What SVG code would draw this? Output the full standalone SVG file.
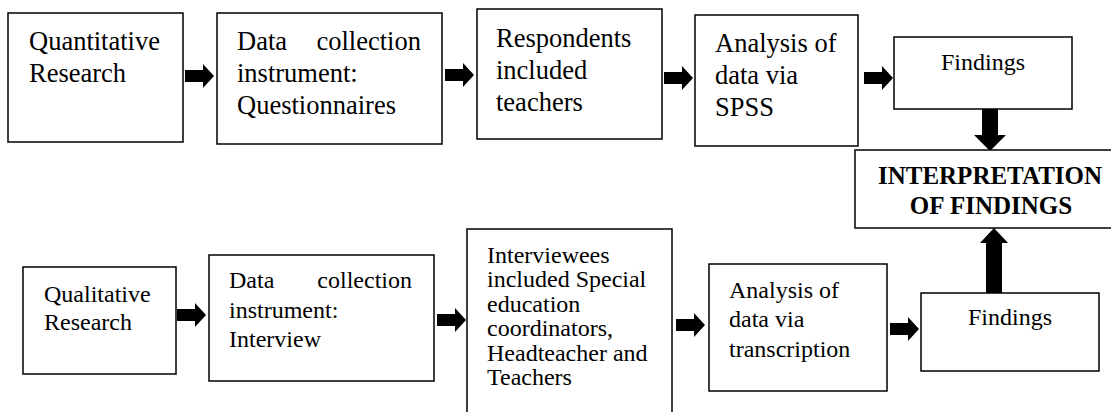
<svg xmlns="http://www.w3.org/2000/svg" xmlns:xlink="http://www.w3.org/1999/xlink" width="1111" height="412" viewBox="0 0 1111 412">
<style>
  .box { fill: #ffffff; stroke: #000000; stroke-width: 1.5; }
  .t { font-family: "Liberation Serif", "Times New Roman", serif; fill: #000000; }
  .top { font-size: 26.5px; }
  .bot { font-size: 24px; }
  .fnd { font-size: 24px; text-anchor: middle; }
  .b { font-size: 25px; font-weight: bold; text-anchor: middle; }
  .end { text-anchor: end; }
  .arr { fill: #000000; stroke: none; }
</style>
<defs>
  <path id="harrow" d="M0,-6 H18 V-12 L29,0 L18,12 V6 H0 Z"/>
</defs>
<rect width="1111" height="412" fill="#ffffff"/>

<g id="connectors" class="arr">
  <use xlink:href="#harrow" href="#harrow" transform="translate(185,76)"/>
  <use xlink:href="#harrow" href="#harrow" transform="translate(445,75)"/>
  <use xlink:href="#harrow" href="#harrow" transform="translate(664,78)"/>
  <use xlink:href="#harrow" href="#harrow" transform="translate(864,78)"/>
  <use xlink:href="#harrow" href="#harrow" transform="translate(177,315)"/>
  <use xlink:href="#harrow" href="#harrow" transform="translate(437,320)"/>
  <use xlink:href="#harrow" href="#harrow" transform="translate(676,325)"/>
  <use xlink:href="#harrow" href="#harrow" transform="translate(890,329)"/>
  <path d="M982,109 H998 V135 H1006 L990,151 L974,135 H982 Z"/>
  <path d="M986,293 H1002 V243 H1008 L994,228 L980,243 H986 Z"/>
</g>

<g id="quantitative">
  <rect class="box" x="8" y="13" width="175" height="129"/>
  <text class="t top" x="29" y="50">Quantitative</text>
  <text class="t top" x="29" y="82">Research</text>
</g>

<g id="questionnaires">
  <rect class="box" x="217" y="13" width="225" height="131"/>
  <text class="t top" x="237" y="50">Data</text>
  <text class="t top end" x="421" y="50">collection</text>
  <text class="t top" x="237" y="82">instrument:</text>
  <text class="t top" x="237" y="114">Questionnaires</text>
</g>

<g id="respondents">
  <rect class="box" x="477" y="9" width="185" height="130"/>
  <text class="t top" x="496" y="47">Respondents</text>
  <text class="t top" x="496" y="79">included</text>
  <text class="t top" x="496" y="111">teachers</text>
</g>

<g id="spss">
  <rect class="box" x="695" y="15" width="163" height="131"/>
  <text class="t top" x="715" y="52">Analysis of</text>
  <text class="t top" x="715" y="84">data via</text>
  <text class="t top" x="715" y="116">SPSS</text>
</g>

<g id="findings-top">
  <rect class="box" x="894" y="37" width="178" height="72"/>
  <text class="t fnd" x="983" y="70">Findings</text>
</g>

<g id="interpretation">
  <rect class="box" x="855" y="150" width="270" height="78"/>
  <text class="t b" x="990" y="184">INTERPRETATION</text>
  <text class="t b" x="991" y="214">OF FINDINGS</text>
</g>

<g id="qualitative">
  <rect class="box" x="23" y="267" width="153" height="107"/>
  <text class="t bot" x="44" y="302">Qualitative</text>
  <text class="t bot" x="44" y="330">Research</text>
</g>

<g id="interview">
  <rect class="box" x="209" y="255" width="225" height="126"/>
  <text class="t bot" x="229" y="288">Data</text>
  <text class="t bot end" x="412" y="288">collection</text>
  <text class="t bot" x="229" y="318">instrument:</text>
  <text class="t bot" x="229" y="347">Interview</text>
</g>

<g id="interviewees">
  <rect class="box" x="467" y="229" width="205" height="200"/>
  <text class="t bot" x="487" y="263">Interviewees</text>
  <text class="t bot" x="487" y="287">included Special</text>
  <text class="t bot" x="487" y="312">education</text>
  <text class="t bot" x="487" y="336">coordinators,</text>
  <text class="t bot" x="487" y="361">Headteacher and</text>
  <text class="t bot" x="487" y="385">Teachers</text>
</g>

<g id="transcription">
  <rect class="box" x="709" y="264" width="178" height="127"/>
  <text class="t bot" x="729" y="298">Analysis of</text>
  <text class="t bot" x="729" y="327">data via</text>
  <text class="t bot" x="729" y="357">transcription</text>
</g>

<g id="findings-bottom">
  <rect class="box" x="921" y="293" width="178" height="78"/>
  <text class="t fnd" x="1010" y="325">Findings</text>
</g>
</svg>
